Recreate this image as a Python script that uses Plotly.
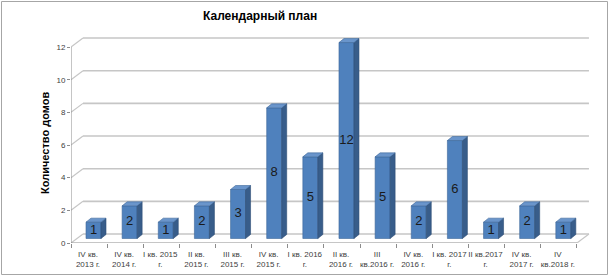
import plotly.graph_objects as go

# ---- data ----
categories = ["IV кв.<br>2013 г.", "IV кв.<br>2014 г.", "I кв. 2015<br>г.", "II кв.<br>2015 г.",
              "III кв.<br>2015 г.", "IV кв.<br>2015 г.", "I кв. 2016<br>г.", "II кв.<br>2016 г.",
              "III<br>кв.2016 г.", "IV кв.<br>2016 г.", "I кв. 2017<br>г.", "II кв.2017<br>г.",
              "IV кв.<br>2017 г.", "IV<br>кв.2018 г."]
values = [1, 2, 1, 2, 3, 8, 5, 12, 5, 2, 6, 1, 2, 1]
y_ticks = [0, 2, 4, 6, 8, 10, 12]
title_text = "Календарный план"
y_title = "Количество домов"

# ---- geometry (pixels -> axis units) ----
W, H = 610, 276
PX0, PX1 = 71, 595
PY0, PY1 = 30, 243
PX = 36.14
PY = 16.33
xr = (PX1 - PX0) / PX
yr = (PY1 - PY0) / PY


def ux(p):
    return p / PX


def uy(p):
    return p / PY


n = len(categories)
ymax = y_ticks[-1]
DX, DY = ux(12), uy(9)
BX0, BX1 = ux(15), ux(30)
BS = uy(4.5)
BDX, BDY = ux(5), uy(4)
bw = BX1 - BX0
xc = [i + (BX0 + BX1) / 2 for i in range(n)]

FRONT = "#4F81BD"
SIDE = "#385D8A"
TOP = "#6A95CB"
GRID = "#C6C6C6"
AXIS = "#8C8C8C"
FONT = "Liberation Sans"

fig = go.Figure()

fig.add_trace(go.Bar(x=xc, y=values, base=[BS] * n, width=bw,
                     marker=dict(color=FRONT, line=dict(color="#3D6798", width=0.6)),
                     hoverinfo="skip"))

sx, sy, tx, ty = [], [], [], []
for i, v in enumerate(values):
    x0 = i + BX0
    x1 = i + BX1
    top = BS + v
    sx += [x1, x1 + BDX, x1 + BDX, x1, x1, None]
    sy += [BS, BS + BDY, top + BDY, top, BS, None]
    tx += [x0, x0 + BDX, x1 + BDX, x1, x0, None]
    ty += [top, top + BDY, top + BDY, top, top, None]

fig.add_trace(go.Scatter(x=sx, y=sy, mode="lines", fill="toself", fillcolor=SIDE,
                         line=dict(color="#2E4E75", width=0.6), hoverinfo="skip"))
fig.add_trace(go.Scatter(x=tx, y=ty, mode="lines", fill="toself", fillcolor=TOP,
                         line=dict(color="#3D6798", width=0.6), hoverinfo="skip"))

fig.add_trace(go.Scatter(x=xc, y=[BS + v / 2 for v in values], mode="text",
                         text=[str(v) for v in values],
                         textfont=dict(family=FONT, size=13, color="#1A1A1A"),
                         hoverinfo="skip"))

shapes = []
for v in y_ticks:
    shapes.append(dict(type="line", xref="x", yref="y", x0=DX, y0=v + DY, x1=n + DX, y1=v + DY,
                       line=dict(color=GRID, width=1.6), layer="below"))
    shapes.append(dict(type="line", xref="x", yref="y", x0=0, y0=v, x1=DX, y1=v + DY,
                       line=dict(color=GRID, width=1.2), layer="below"))
shapes.append(dict(type="line", xref="x", yref="y", x0=n, y0=0, x1=n + DX, y1=DY,
                   line=dict(color=GRID, width=1.2), layer="below"))
shapes.append(dict(type="line", xref="x", yref="y", x0=0, y0=0, x1=n, y1=0,
                   line=dict(color=AXIS, width=1), layer="below"))
shapes.append(dict(type="line", xref="x", yref="y", x0=0, y0=0, x1=0, y1=ymax,
                   line=dict(color=AXIS, width=1), layer="below"))
shapes.append(dict(type="rect", xref="paper", yref="paper",
                   x0=1.5 / W, x1=607.5 / W, y0=1 - 274.5 / H, y1=1 - 1.5 / H,
                   line=dict(color="#A6A6A6", width=1), layer="below"))

fig.update_layout(
    width=W, height=H,
    margin=dict(l=0, r=0, t=0, b=0),
    paper_bgcolor="white", plot_bgcolor="rgba(0,0,0,0)",
    showlegend=False,
    shapes=shapes,
    xaxis=dict(domain=[PX0 / W, PX1 / W], range=[0, xr], showgrid=False, zeroline=False,
               automargin=False, tickangle=0, ticklabelstandoff=5,
               tickmode="array", tickvals=[i + 0.47 for i in range(n)], ticktext=categories,
               ticks="", tickfont=dict(family=FONT, size=8, color="#404040"),
               minor=dict(tickmode="array", tickvals=list(range(n + 1)), ticks="outside",
                          ticklen=4, tickcolor=AXIS, showgrid=False),
               fixedrange=True),
    yaxis=dict(domain=[1 - PY1 / H, 1 - PY0 / H], range=[0, yr], showgrid=False, zeroline=False,
               automargin=False,
               tickmode="array", tickvals=y_ticks, ticks="outside", ticklen=3, tickcolor=AXIS,
               tickfont=dict(family=FONT, size=8, color="#404040"), fixedrange=True),
    annotations=[
        dict(text="<b>" + title_text + "</b>", xref="paper", yref="paper", x=260 / W, y=1 - 16 / H,
             showarrow=False, font=dict(family=FONT, size=12, color="#000000"),
             xanchor="center", yanchor="middle"),
        dict(text="<b>" + y_title + "</b>", xref="paper", yref="paper", x=45 / W, y=1 - 143 / H,
             showarrow=False, textangle=-90, font=dict(family=FONT, size=11, color="#000000"),
             xanchor="center", yanchor="middle"),
    ],
)

fig.write_html("out.html", config={"displayModeBar": False, "staticPlot": True},
               post_script="document.body.style.margin='0';")
